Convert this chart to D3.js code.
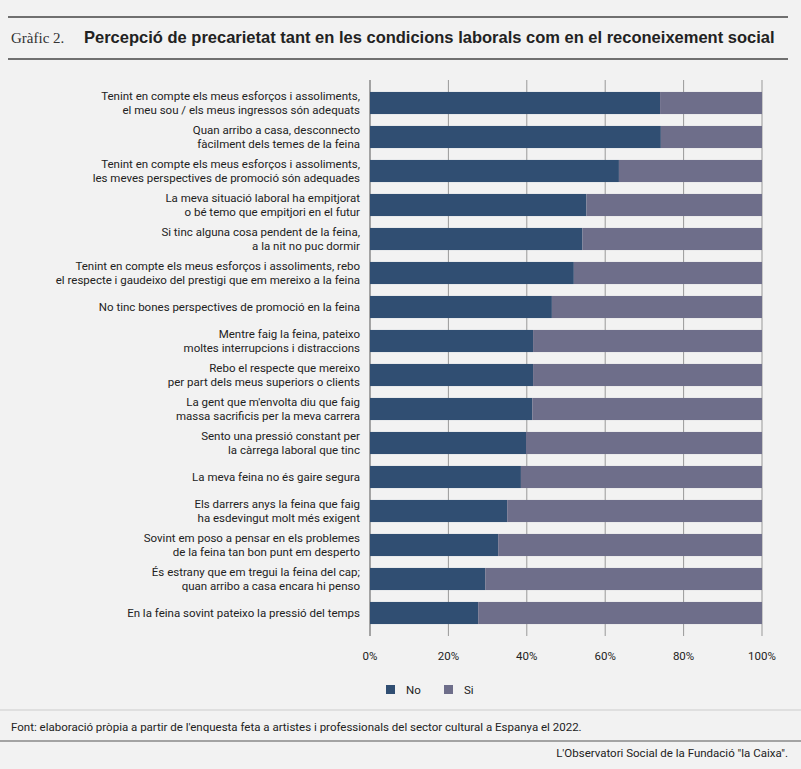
<!DOCTYPE html><html><head><meta charset="utf-8"><script src="https://cdn.jsdelivr.net/npm/d3@7"></script>
<style>body{margin:0;background:#f2f2f2}</style></head><body><svg id="c" width="801" height="769"></svg>
<script>
const categories=[
["Tenint en compte els meus esforços i assoliments,","el meu sou / els meus ingressos són adequats"],
["Quan arribo a casa, desconnecto","fàcilment dels temes de la feina"],
["Tenint en compte els meus esforços i assoliments,","les meves perspectives de promoció són adequades"],
["La meva situació laboral ha empitjorat","o bé temo que empitjori en el futur"],
["Si tinc alguna cosa pendent de la feina,","a la nit no puc dormir"],
["Tenint en compte els meus esforços i assoliments, rebo","el respecte i gaudeixo del prestigi que em mereixo a la feina"],
["No tinc bones perspectives de promoció en la feina"],
["Mentre faig la feina, pateixo","moltes interrupcions i distraccions"],
["Rebo el respecte que mereixo","per part dels meus superiors o clients"],
["La gent que m'envolta diu que faig","massa sacrificis per la meva carrera"],
["Sento una pressió constant per","la càrrega laboral que tinc"],
["La meva feina no és gaire segura"],
["Els darrers anys la feina que faig","ha esdevingut molt més exigent"],
["Sovint em poso a pensar en els problemes","de la feina tan bon punt em desperto"],
["És estrany que em tregui la feina del cap;","quan arribo a casa encara hi penso"],
["En la feina sovint pateixo la pressió del temps"]];
const noValues=[74,74.2,63.5,55.2,54.2,52,46.4,41.6,41.6,41.4,39.8,38.5,35,32.7,29.4,27.6];
const siValues=noValues.map(v=>100-v);
const ticks=[0,20,40,60,80,100];
const svg=d3.select("#c");
const F="'Liberation Sans Narrow',sans-serif";
const R="Roboto,sans-serif";
const x=d3.scaleLinear().domain([0,100]).range([370,762]);
const y=d3.scaleBand().domain(d3.range(16)).range([86,630]).paddingInner(0.35).paddingOuter(0.175);
svg.append("line").attr("x1",8).attr("x2",788).attr("y1",17).attr("y2",17).attr("stroke","#444").attr("stroke-width",1.5);
svg.append("line").attr("x1",8).attr("x2",788).attr("y1",59).attr("y2",59).attr("stroke","#444").attr("stroke-width",1.5);
svg.append("text").attr("x",11).attr("y",43).attr("font-family","'Liberation Serif',serif").attr("font-size",15).attr("fill","#333").text("Gràfic 2.");
svg.append("text").attr("x",84).attr("y",43).attr("font-family",F).attr("font-weight","bold").attr("font-size",16.5).attr("fill","#222").text("Percepció de precarietat tant en les condicions laborals com en el reconeixement social");
ticks.forEach(t=>svg.append("line").attr("x1",x(t)).attr("x2",x(t)).attr("y1",80).attr("y2",636).attr("stroke",t==0?"#888":"#999").attr("stroke-width",t==0?1.5:1));
const g=svg.append("g");
g.selectAll(".no").data(noValues).join("rect").attr("x",x(0)).attr("y",(d,i)=>y(i)).attr("width",d=>x(d)-x(0)).attr("height",y.bandwidth()).attr("fill","#304e72");
g.selectAll(".si").data(siValues).join("rect").attr("x",(d,i)=>x(noValues[i])).attr("y",(d,i)=>y(i)).attr("width",d=>x(d)-x(0)).attr("height",y.bandwidth()).attr("fill","#6e6e8a");
categories.forEach((c,i)=>{const cy=y(i)+y.bandwidth()/2;const t=svg.append("text").attr("x",360).attr("text-anchor","end").attr("font-family",R).attr("font-size",11.5).attr("fill","#222");
c.forEach((l,j)=>t.append("tspan").attr("x",360).attr("y",cy+4+(j-(c.length-1)/2)*13.5).text(l));});
ticks.forEach(t=>svg.append("text").attr("x",x(t)).attr("y",660).attr("text-anchor","middle").attr("font-family",R).attr("font-size",11.5).attr("fill","#222").text(t+"%"));
[["No","#304e72",386],["Si","#6e6e8a",444]].forEach(([n,c,lx])=>{svg.append("rect").attr("x",lx).attr("y",685).attr("width",9).attr("height",9).attr("fill",c);svg.append("text").attr("x",lx+20).attr("y",694).attr("font-family",R).attr("font-size",11.5).attr("fill","#222").text(n);});
svg.append("line").attr("x1",0).attr("x2",801).attr("y1",710).attr("y2",710).attr("stroke","#ccc");
svg.append("text").attr("x",11).attr("y",731).attr("font-family",R).attr("font-size",11.5).attr("fill","#222").text("Font: elaboració pròpia a partir de l'enquesta feta a artistes i professionals del sector cultural a Espanya el 2022.");
svg.append("line").attr("x1",0).attr("x2",801).attr("y1",741).attr("y2",741).attr("stroke","#555");
svg.append("text").attr("x",788).attr("y",757).attr("text-anchor","end").attr("font-family",R).attr("font-size",11.5).attr("fill","#222").text("L'Observatori Social de la Fundació \"la Caixa\".");
</script></body></html>
